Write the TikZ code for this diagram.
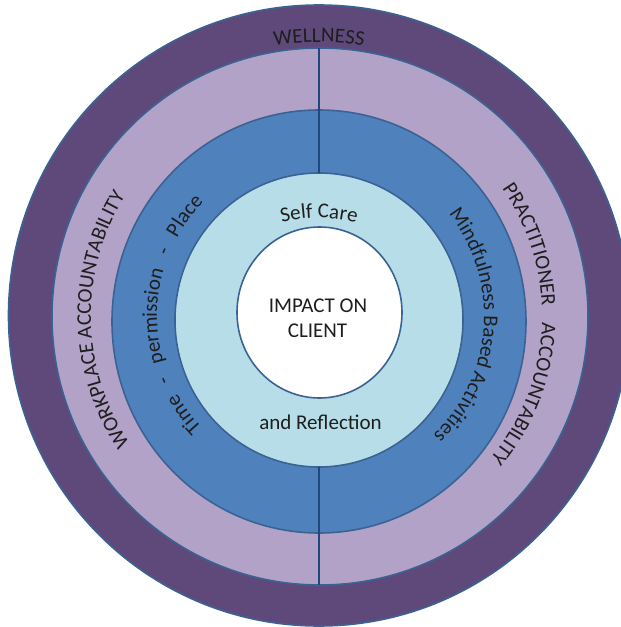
\documentclass[tikz,border=0pt]{standalone}
\usepackage{fontspec}
\setmainfont{Carlito}
\usetikzlibrary{decorations.text}
\definecolor{darkpurple}{HTML}{5F497A}
\definecolor{lightpurple}{HTML}{B3A2C7}
\definecolor{midblue}{HTML}{4F81BD}
\definecolor{paleblue}{HTML}{B7DEE8}
\definecolor{ringline}{HTML}{3A6394}
\definecolor{divider}{HTML}{1F497D}
\definecolor{inktext}{HTML}{1E1E1E}
\newcommand{\arcfont}{\fontsize{21}{25}\selectfont}
\newcommand{\wgap}[1]{\hbox to #1{\hfil}}
\begin{document}
\begin{tikzpicture}[x=1pt,y=1pt,
  ring/.style={draw=ringline, line width=1.6pt},
  divline/.style={draw=divider, line width=1.8pt},
  label/.style={font=\arcfont, text=inktext, inner sep=0pt},
  arclabel/.style={decorate, decoration={text along path, text align=center,
      text color=inktext, text={|\arcfont|#1}}}]
\path[use as bounding box] (-319,-311) rectangle (302,316);
% rings
\path[ring, fill=darkpurple] (0,0.5) circle[radius=310.5];
\path[ring, fill=lightpurple] (1,-0.5) circle[x radius=268, y radius=268.5];
\path[ring, fill=midblue] (0,-5.5) circle[x radius=207, y radius=211.5];
\path[ring, fill=paleblue] (0,-4) circle[x radius=144, y radius=147];
\path[ring, fill=white] (0.5,3.5) circle[x radius=82.5, y radius=85.5];
% dividers
\coordinate (topOuter) at (0,268);
\coordinate (topInner) at (0,143);
\coordinate (botInner) at (0,-151);
\coordinate (botOuter) at (0,-269);
\draw[divline] (topOuter) -- (topInner);
\draw[divline] (botInner) -- (botOuter);
% curved labels
\path[arclabel={WELLNESS}] (130:274) arc[start angle=130, end angle=50, radius=274];
\path[arclabel={WORKPLACE ACCOUNTABILITY}] (251:228) arc[start angle=251, end angle=111, radius=228];
\path[arclabel={PRACTITIONER{\wgap{16pt}}ACCOUNTABILITY}] (67.5:223) arc[start angle=67.5, end angle=-72.5, radius=223];
\path[arclabel={Time{\wgap{14pt}}-{\wgap{14pt}}permission{\wgap{14pt}}-{\wgap{14pt}}Place}] (249.5:162) arc[start angle=249.5, end angle=109.5, radius=162];
\path[arclabel={Mindfulness Based Activities}] (66:165) arc[start angle=66, end angle=-74, radius=165];
\path[arclabel={Self Care}] ([shift={(0,-52)}]125:150) arc[start angle=125, end angle=55, radius=150];
% straight labels
\node[label, anchor=base] (impact) at (-1,4) {IMPACT ON};
\node[label, anchor=base] (client) at (-1.5,-21) {CLIENT};
\node[label, anchor=base] (reflection) at (1.5,-113) {and Reflection};
\end{tikzpicture}
\end{document}
